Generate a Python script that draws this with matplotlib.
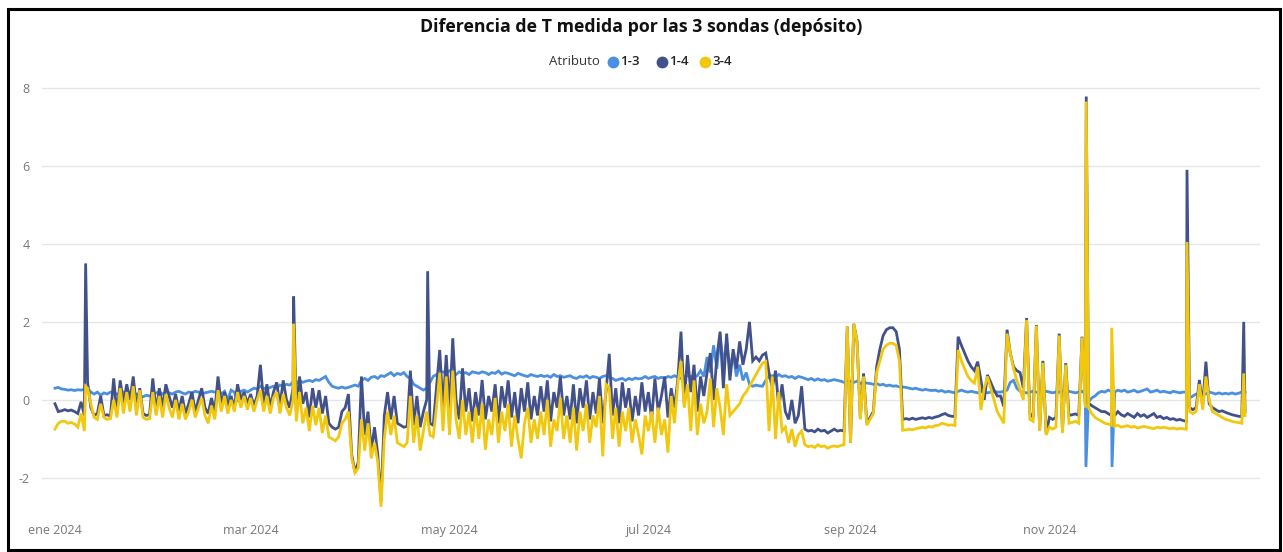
import numpy as np
import matplotlib
matplotlib.use("Agg")
import matplotlib.pyplot as plt
from matplotlib.lines import Line2D
from matplotlib.patches import Rectangle

plt.rcParams['font.family'] = ['Open Sans', 'DejaVu Sans']

start = np.datetime64("2024-01-01T00:00:00")

# one value per day of 2024
d13 = [
    0.3, 0.32, 0.28, 0.27, 0.25, 0.26, 0.24, 0.26, 0.25, 0.27,
    0.3, 0.2, 0.15, 0.2, 0.12, 0.18, 0.15, 0.2, 0.18, 0.15,
    0.17, 0.2, 0.15, 0.18, 0.12, 0.15, 0.1, 0.08, 0.12, 0.1,
    0.12, 0.18, 0.2, 0.15, 0.2, 0.18, 0.15, 0.2, 0.22, 0.18,
    0.15, 0.2, 0.18, 0.22, 0.2, 0.15, 0.18, 0.2, 0.22, 0.2,
    0.2, 0.15, 0.22, 0.0, 0.25, 0.2, -0.05, 0.22, 0.25, 0.2,
    0.25, 0.3, 0.28, 0.35, 0.3, 0.28, 0.32, 0.35, 0.3, 0.38,
    0.35, 0.4, 0.38, 0.45, 0.42, 0.5, 0.45, 0.48, 0.5, 0.47,
    0.52, 0.5, 0.55, 0.6, 0.45, 0.35, 0.32, 0.3, 0.33, 0.3,
    0.32, 0.35, 0.38, 0.35, 0.5, 0.55, 0.5, 0.58, 0.6, 0.55,
    0.62, 0.6, 0.65, 0.7, 0.62, 0.68, 0.65, 0.7, 0.6, 0.55,
    0.4, 0.35, 0.3, 0.25, 0.3, 0.45, 0.6, 0.65, 0.7, 0.72,
    0.68, 0.75, 0.7, 0.65, 0.72, 0.68, 0.7, 0.65, 0.72, 0.7,
    0.68, 0.72, 0.7, 0.65, 0.7, 0.68, 0.74, 0.66, 0.7, 0.68,
    0.65, 0.62, 0.68, 0.65, 0.62, 0.6, 0.65, 0.62, 0.6, 0.63,
    0.6, 0.62, 0.58, 0.65, 0.6, 0.62, 0.58, 0.6, 0.62, 0.57,
    0.55, 0.6, 0.58, 0.62, 0.56, 0.6, 0.58, 0.55, 0.6, 0.62,
    0.58, 0.55, 0.5, 0.53, 0.55, 0.5, 0.55, 0.52, 0.56, 0.54,
    0.55, 0.6, 0.55, 0.58, 0.6, 0.55, 0.58, 0.55, 0.6, 0.58,
    0.62, 0.58, 0.55, 0.6, 0.62, 0.6, 0.58, 0.62, 0.75, 0.6,
    1.1, 0.7, 1.4, 0.8, 1.65, 0.9, 1.5, 0.8, 1.2, 0.6,
    0.9, 0.5, 0.7, 0.4, 0.35, 0.38, 0.36, 0.35, 0.5, 0.6,
    0.62, 0.58, 0.65, 0.6, 0.62, 0.58, 0.6, 0.55, 0.6, 0.58,
    0.55, 0.52, 0.55, 0.5, 0.54, 0.5, 0.52, 0.48, 0.5, 0.52,
    0.5, 0.48, 0.45, 0.5, 0.47, 0.45, 0.48, 0.42, 0.45, 0.43,
    0.42, 0.4, 0.42, 0.38, 0.4, 0.36, 0.38, 0.35, 0.36, 0.33,
    0.33, 0.32, 0.3, 0.28, 0.3, 0.27, 0.25, 0.27, 0.25, 0.24,
    0.25, 0.22, 0.24, 0.2, 0.22, 0.2, 0.18, 0.22, 0.25, 0.22,
    0.2, 0.22, 0.2, 0.18, 0.22, 0.2, 0.18, 0.2, 0.22, 0.2,
    0.2, 0.22, 0.25, 0.45, 0.5, 0.3, 0.22, 0.2, 0.18, 0.2,
    0.22, 0.2, 0.18, 0.2, 0.22, 0.2, 0.18, 0.2, 0.2, 0.22,
    0.2, 0.22, 0.2, 0.18, 0.2, 0.22, 0.15, -0.05, 0.05, 0.1,
    0.18, 0.22, 0.2, 0.25, 0.22, 0.2, 0.25, 0.22, 0.25, 0.2,
    0.22, 0.25, 0.2, 0.22, 0.25, 0.28, 0.2, 0.22, 0.25, 0.2,
    0.22, 0.2, 0.18, 0.22, 0.2, 0.18, 0.2, 0.2, 0.05, 0.1,
    0.15, 0.12, 0.18, 0.15, 0.2, 0.18, 0.15, 0.18, 0.15, 0.17,
    0.15, 0.18, 0.15, 0.17, 0.2, 0.2,
]

d14 = [
    -0.1, -0.3, -0.28, -0.25, -0.28, -0.26, -0.3, -0.35, -0.05, -0.4,
    0.45, -0.2, -0.4, -0.35, 0.1, -0.4, -0.38, -0.42, 0.55, -0.35,
    0.5, -0.1, 0.4, 0.0, 0.6, -0.2, 0.3, -0.35, -0.4, -0.38,
    0.55, -0.3, 0.3, -0.2, 0.4, 0.1, -0.2, 0.15, -0.3, 0.1,
    -0.35, -0.1, 0.2, -0.3, 0.0, 0.3, -0.2, -0.35, 0.05, -0.3,
    0.6, -0.1, 0.2, -0.15, 0.1, -0.2, 0.4, 0.0, 0.2, -0.1,
    0.15, -0.15, 0.1, 0.9, -0.1, 0.4, -0.2, 0.2, 0.45, -0.15,
    0.5, 0.0, -0.2, 0.3, -0.3, 0.6, -0.1, 0.2, -0.45, 0.3,
    -0.2, 0.25, -0.35, 0.1, -0.6, -0.7, -0.75, -0.7, -0.3, -0.2,
    0.15, -1.4, -1.85, -1.6, 0.6, -0.9, -0.3, -1.3, -0.7, -1.4,
    -2.6, -0.4, 0.2, -0.5, 0.1, -0.6, -0.65, -0.7, -0.68, 0.75,
    -0.65, 0.1, -0.7, -0.3, 0.0, -0.6, -0.65, 0.3, 1.28, -0.2,
    1.15, -0.3, 1.58, 0.0, -0.5, 0.81, -0.3, 0.3, -0.55, 0.2,
    -0.4, 0.51, -0.5, 0.1, -0.3, 0.4, -0.6, 0.35, -0.2, 0.5,
    -0.45, 0.2, -0.6, 0.3, -0.3, 0.45, -0.5, 0.1, -0.4, 0.35,
    -0.3, 0.5, -0.55, 0.2, -0.2, 0.6, -0.4, 0.1, -0.5, 0.4,
    -0.6, 0.3, -0.2, 0.5, -0.5, 0.2, -0.35, 0.55, -0.6, 0.2,
    1.18, -0.4, 0.3, -0.6, 0.45, -0.2, 0.3, -0.55, 0.1, -0.4,
    0.45, -0.3, 0.2, -0.5, 0.55, -0.3, 0.1, 0.6, -0.45, 0.3,
    -0.2, 0.5, 1.75, -0.1, 1.15, 0.2, 0.9, -0.3, 0.6, 0.1,
    0.7, 1.2, 0.0, 1.1, 1.75, 0.3, 1.7, 0.5, 1.3, 0.8,
    1.5, 0.9, 1.3, 2.0, 1.0, 1.1, 1.0, 1.15, 1.2, 0.7,
    0.3, 0.75, -0.2, 0.4, -0.3, -0.5, 0.0, -0.6, -0.4, 0.35,
    -0.75, -0.8, -0.78, -0.82, -0.75, -0.8, -0.78, -0.85, -0.8, -0.75,
    -0.8, -0.78, -0.8, 1.88, -1.1, 1.95, 1.5, -0.45, 0.68, -0.6,
    -0.45, -0.3, 0.85, 1.3, 1.65, 1.8, 1.85, 1.85, 1.75, 1.3,
    -0.5, -0.48, -0.5, -0.47, -0.5, -0.48, -0.46, -0.48, -0.45, -0.47,
    -0.44, -0.42, -0.38, -0.35, -0.4, -0.42, -0.43, 1.62, 1.4, 1.2,
    1.0, 0.85, 0.75, 0.98, 0.5, 0.0, 0.64, 0.45, 0.25, 0.1,
    0.1, -0.17, 1.8, 1.2, 0.85, 0.75, 0.7, 0.3, 2.1, -0.35,
    -0.45, 1.92, -0.77, 1.0, -0.85, -0.45, -0.5, -0.45, 1.7, -0.8,
    0.94, -0.4, -0.38, -0.36, -0.4, 1.62, -0.1, -0.08, -0.15, -0.2,
    -0.25, -0.3, -0.3, -0.35, -0.4, -0.4, -0.3, -0.38, -0.42, -0.35,
    -0.4, -0.45, -0.35, -0.42, -0.38, -0.45, -0.4, -0.35, -0.45, -0.42,
    -0.48, -0.45, -0.5, -0.48, -0.52, -0.5, -0.53, -0.55, -0.2, -0.25,
    -0.2, 0.51, -0.15, 0.98, -0.1, -0.2, -0.25, -0.3, -0.28, -0.32,
    -0.35, -0.38, -0.4, -0.42, -0.43, -0.3,
]

d34 = [
    -0.75, -0.6, -0.55, -0.55, -0.6, -0.58, -0.62, -0.7, -0.35, -0.8,
    0.3, -0.1, -0.45, -0.5, -0.1, -0.45, -0.5, -0.48, 0.0, -0.45,
    0.3, -0.35, 0.2, -0.3, 0.35, -0.4, 0.25, -0.45, -0.5, -0.48,
    0.2, -0.4, 0.1, -0.45, 0.15, -0.2, -0.45, 0.0, -0.5, -0.1,
    -0.5, -0.3, 0.0, -0.45, -0.2, 0.05, -0.4, -0.6, -0.15, -0.5,
    0.25, -0.3, 0.1, -0.35, 0.0, -0.3, 0.2, -0.2, 0.1, -0.25,
    0.05, -0.3, 0.0, 0.25, -0.3, 0.1, -0.35, 0.05, 0.2, -0.35,
    0.15, -0.2, -0.4, 0.0, -0.55, 0.2, -0.6, -0.2, -0.8, -0.15,
    -0.65, -0.2, -0.85, -0.4, -0.95, -1.0, -1.05, -0.95, -0.6, -0.5,
    -0.3, -1.5, -1.87, -1.75, -0.5, -1.3, -0.6, -1.5, -1.1, -1.6,
    -2.74, -1.0, -0.3, -0.9, -0.4, -1.1, -1.15, -1.2, -1.1, 0.1,
    -1.1, -0.4, -1.3, -0.8, -0.3, -0.9, -0.95, -0.2, 0.7, -0.8,
    0.6, -0.9, 0.75, -0.5, -1.0, 0.0, -0.9, -0.3, -1.1, -0.2,
    -1.0, -0.1, -1.28, -0.5, -0.9, 0.05, -1.1, -0.3, -0.8, -0.1,
    -1.2, -0.4, -1.0, -1.5, -0.6, -0.2, -1.1, -0.5, -1.0, -0.3,
    -0.9, 0.0, -1.2, -0.5, -0.8, 0.05, -1.0, -0.4, -1.1, -0.2,
    -1.3, -0.3, -0.8, -0.1, -1.1, -0.4, -0.7, 0.1, -1.45, 0.4,
    0.3, -1.0, -0.2, -1.2, -0.3, -0.8, -0.2, -1.1, -0.5, -0.9,
    -1.4, -0.4, -0.8, -0.3, -1.1, -0.2, -0.9, -0.5, -1.35, 0.1,
    -0.6, 0.4, 1.0, -0.2, 0.4, -0.8, 0.5, -0.9, -0.1, -0.6,
    -0.3, 0.55, -0.7, 0.3, -0.2, -0.9, 0.4, -0.4, -0.3, -0.2,
    -0.1, 0.1, 0.2, 0.35, 0.5, 0.65, 0.8, 0.94, 0.98, -0.8,
    0.6, -1.0, 0.2, -0.8, -0.7, -1.1, -0.75, -1.2, -0.9, -0.8,
    -1.15, -1.2, -1.18, -1.22, -1.15, -1.2, -1.18, -1.24, -1.2, -1.18,
    -1.2, -1.17, -1.15, 1.88, -1.1, 1.95, 1.5, -0.5, 0.6, -0.65,
    -0.5, -0.35, 0.7, 1.0, 1.3, 1.4, 1.45, 1.45, 1.4, 1.0,
    -0.78, -0.77, -0.75, -0.77, -0.74, -0.72, -0.7, -0.72, -0.68, -0.7,
    -0.66, -0.65, -0.6, -0.62, -0.65, -0.64, -0.66, 1.28, 1.0, 0.8,
    0.6, 0.5, 0.43, 0.85, -0.26, 0.3, 0.6, 0.3, 0.0, -0.3,
    -0.45, -0.6, 1.7, 1.2, 0.8, 0.5, 0.26, 0.0, 2.05, -0.5,
    -0.55, 1.9, -0.8, 0.95, -0.9, -0.7, -0.75, -0.7, 1.65, -0.85,
    0.9, -0.6, -0.58, -0.55, -0.6, 1.6, -0.2, -0.2, -0.35, -0.45,
    -0.5, -0.55, -0.6, -0.62, -0.65, -0.68, -0.65, -0.7, -0.68, -0.66,
    -0.7, -0.68, -0.72, -0.7, -0.68, -0.7, -0.72, -0.74, -0.7, -0.72,
    -0.7, -0.72, -0.74, -0.72, -0.75, -0.73, -0.74, -0.75, -0.3, -0.35,
    -0.3, 0.4, -0.25, 0.6, 0.0, -0.3, -0.35, -0.4, -0.45, -0.5,
    -0.52, -0.55, -0.57, -0.58, -0.6, -0.4,
]

# short spikes that fall between daily readings (day offset, value)
spk13_day = [316.2, 324.2]
spk13_val = [-1.72, -1.72]
spk14_day = [9.4, 73.2, 114.3, 316.3, 347.2, 364.6]
spk14_val = [3.5, 2.65, 3.3, 7.78, 5.9, 2.0]
spk34_day = [9.4, 73.2, 316.3, 324.1, 347.2, 364.6]
spk34_val = [0.35, 1.95, 7.65, 1.85, 4.05, 0.68]

names = ["1-3", "1-4", "3-4"]
colors = ["#4A8FE0", "#425189", "#F2C80F"]

tick_dates = ["2024-01-01", "2024-03-01", "2024-05-01", "2024-07-01", "2024-09-01", "2024-11-01"]
tick_labels = ["ene 2024", "mar 2024", "may 2024", "jul 2024", "sep 2024", "nov 2024"]
y_ticks = [-2, 0, 2, 4, 6, 8]


def to_dates(days):
    secs = np.round(np.asarray(days, dtype=float) * 86400).astype("int64")
    return start + secs.astype("timedelta64[s]")


def build(daily, sdays, svals):
    days = np.concatenate([np.arange(len(daily), dtype=float), sdays])
    vals = np.concatenate([np.asarray(daily, dtype=float), svals])
    order = np.argsort(days, kind="stable")
    return to_dates(days[order]), vals[order]


series = [build(d13, spk13_day, spk13_val),
          build(d14, spk14_day, spk14_val),
          build(d34, spk34_day, spk34_val)]

fig = plt.figure(figsize=(12.83, 5.52), dpi=100)
ax = fig.add_axes([0.0327, 0.0707, 0.9494, 0.7771])

for (x, y), c in zip(series, colors):
    ax.plot(x, y, color=c, lw=2.0, solid_joinstyle="miter")

ax.set_ylim(-2.9, 8.1)
ax.set_xlim(to_dates([-4.0])[0], to_dates([369.6])[0])
ax.set_yticks(y_ticks)
ax.set_yticklabels([str(v) for v in y_ticks])
ax.set_xticks([np.datetime64(d) for d in tick_dates])
ax.set_xticklabels(tick_labels)
ax.tick_params(axis="both", length=0, labelsize=9, labelcolor="#777777")
ax.tick_params(axis="y", pad=9)
ax.tick_params(axis="x", pad=8)
ax.grid(axis="y", color="#E6E6E6", lw=1)
ax.set_axisbelow(True)
for s in ax.spines.values():
    s.set_visible(False)

fig.text(0.5, 0.951, "Diferencia de T medida por las 3 sondas (depósito)",
         ha="center", va="center", fontsize=12.8, fontweight="bold", color="#111111")

# legend row: "Atributo" then coloured dots with labels
ly = 1 - 61.7 / 552
fig.text(574 / 1283, ly, "Atributo", ha="center", va="center", fontsize=9.5, color="#333333")
dot_x = [612.7, 661.7, 705.0]
for px, c, n in zip(dot_x, colors, names):
    fig.add_artist(Line2D([px / 1283], [ly], marker="o", markersize=7.5, color=c,
                          linestyle="none", transform=fig.transFigure))
    fig.text((px + 7) / 1283, ly, n, ha="left", va="center", fontsize=9.5,
             fontweight="semibold", color="#222222")

fig.add_artist(Rectangle((0.0062, 0.0036), 0.9915, 0.98, transform=fig.transFigure,
                         fill=False, lw=2.2, ec="black"))

fig.savefig("out.png", dpi=100)
